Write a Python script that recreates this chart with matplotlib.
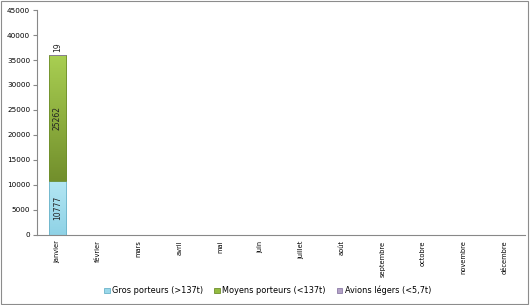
import matplotlib.pyplot as plt
import numpy as np
from matplotlib.patches import Rectangle
from matplotlib.colors import LinearSegmentedColormap

mois = ['janvier', 'février', 'mars', 'avril', 'mai', 'juin', 'juillet',
        'août', 'septembre', 'octobre', 'novembre', 'décembre']
gros = [10777] + [0] * 11
moyens = [25262] + [0] * 11
legers = [19] + [0] * 11

series = ['Gros porteurs (>137t)', 'Moyens porteurs (<137t)', 'Avions légers (<5,7t)']
couleurs = ['#9ad8ea', '#93bb40', '#b3a2c7']
bords = ['#6cb3c9', '#6f8f2c', '#8c7aa6']
# degradés (bas -> haut) pour imiter le style Excel
degrades = [('#8fd2e6', '#b3e6f3'), ('#728f2c', '#a9cf52'), ('#9d8bb5', '#c6b8d8')]

fig = plt.figure(figsize=(5.3, 3.05), dpi=100, facecolor='white')
ax = fig.add_axes([0.07, 0.23, 0.92, 0.737])

x = np.arange(len(mois))
largeur = 0.42
bottom = np.zeros(len(mois))
for vals, lab, c, e, (c0, c1) in zip([gros, moyens, legers], series, couleurs, bords, degrades):
    vals = np.array(vals, dtype=float)
    bars = ax.bar(x, vals, largeur, bottom=bottom, color=c, edgecolor=e,
                  linewidth=0.6, label=lab, zorder=2)
    cmap = LinearSegmentedColormap.from_list('g', [c0, c1])
    for b in bars:
        if b.get_height() <= 0:
            continue
        x0, y0 = b.get_x(), b.get_y()
        w, h = b.get_width(), b.get_height()
        grad = np.linspace(0, 1, 100).reshape(-1, 1)
        im = ax.imshow(grad, cmap=cmap, origin='lower', aspect='auto',
                       extent=[x0, x0 + w, y0, y0 + h], zorder=2.5)
        im.set_clip_path(b)
        ax.add_patch(Rectangle((x0, y0), w, h, fill=False, edgecolor=e,
                               linewidth=0.6, zorder=3))
    bottom += vals

# etiquettes
for i in range(len(mois)):
    if gros[i]:
        ax.text(x[i], gros[i] / 2, str(gros[i]), rotation=90, ha='center',
                va='center', fontsize=5.5, color='#222222', zorder=4)
    if moyens[i]:
        ax.text(x[i], gros[i] + moyens[i] / 2, str(moyens[i]), rotation=90,
                ha='center', va='center', fontsize=5.5, color='#222222', zorder=4)
    if legers[i]:
        ax.text(x[i], bottom[i] + 600, str(legers[i]), rotation=90,
                ha='center', va='bottom', fontsize=5.5, color='#222222', zorder=4)

ax.set_xlim(-0.5, len(mois) - 0.5)
ax.set_ylim(0, 45000)
ax.set_yticks(np.arange(0, 45001, 5000))
ax.set_xticks(x)
ax.set_xticklabels(mois, rotation=90, fontsize=4.8, va='top')
ax.tick_params(axis='y', labelsize=5.2, length=3, color='#888888', pad=2)
ax.tick_params(axis='x', length=0, pad=4)
for s in ['top', 'right']:
    ax.spines[s].set_visible(False)
ax.spines['left'].set_color('#888888')
ax.spines['bottom'].set_color('#888888')
ax.spines['left'].set_linewidth(0.8)
ax.spines['bottom'].set_linewidth(0.8)

fig.legend(loc='center', bbox_to_anchor=(0.505, 0.047), ncol=3, frameon=False,
           fontsize=5.9, handlelength=0.7, handleheight=0.7, handletextpad=0.3,
           columnspacing=1.3)

fig.patches.append(Rectangle((0.002, 0.003), 0.995, 0.993, transform=fig.transFigure,
                             fill=False, edgecolor='#8c8c8c', linewidth=0.8))

plt.savefig('out.png', dpi=100, facecolor='white')
